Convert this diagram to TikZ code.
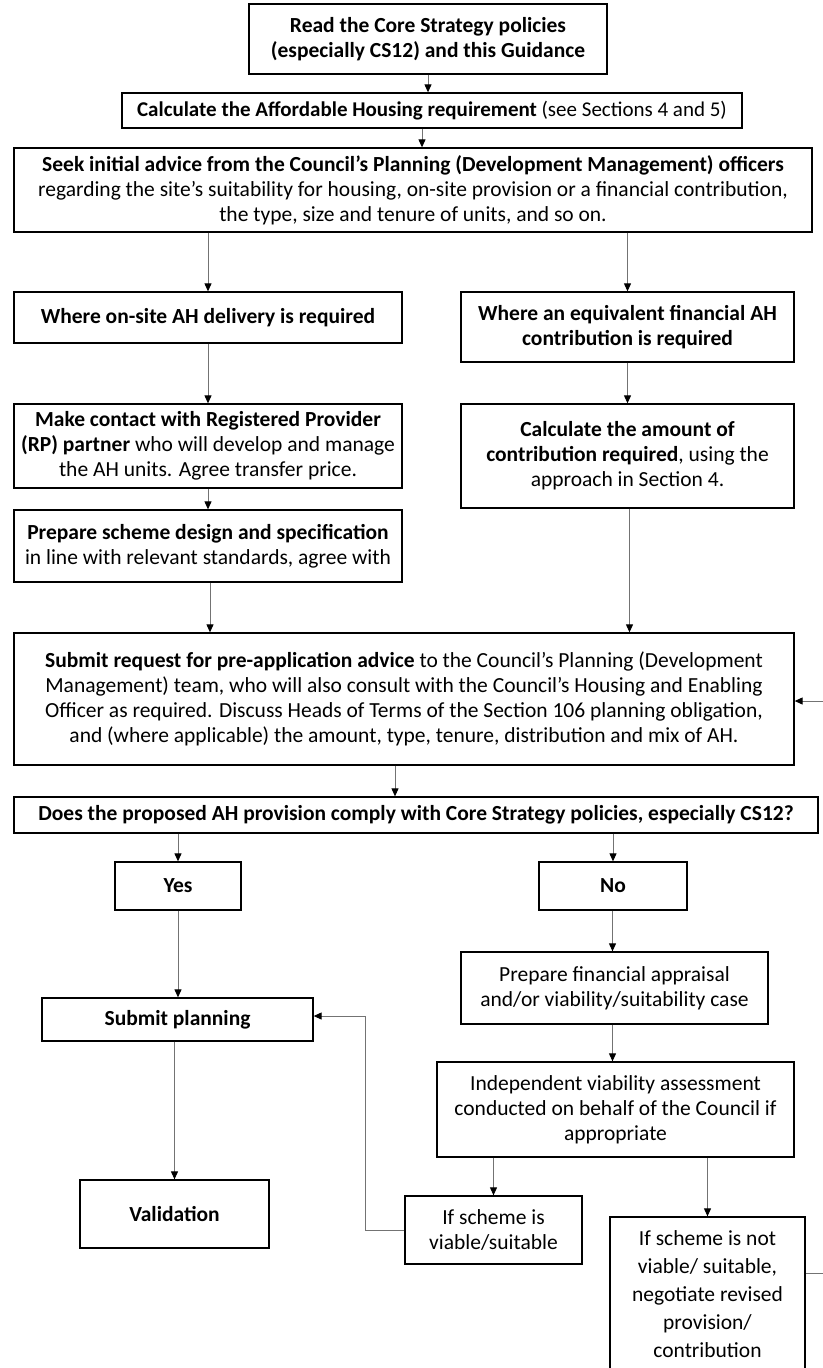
\documentclass[tikz,border=0pt]{standalone}
\usepackage{fontspec}
\setmainfont{Carlito}
\usetikzlibrary{arrows.meta,calc}
\begin{document}
\begin{tikzpicture}[x=1pt,y=-1pt,
  box/.style={draw=black, line width=1.3pt, align=center, inner sep=0pt, fill=white,
    font=\fontsize{21.5}{25}\selectfont},
  conn/.style={draw=black!55, line width=1pt,
    -{Triangle[length=8pt,width=7pt,color=black]}},
  link/.style={draw=black!55, line width=1pt}]
\useasboundingbox (0,0) rectangle (822,1368);

\node[box, minimum width=358pt, minimum height=70pt] (b1) at (428,39)
  {\textbf{Read the Core Strategy policies}\\\textbf{(especially CS12) and this Guidance}};
\node[box, minimum width=620pt, minimum height=35pt, font=\fontsize{21}{25}\selectfont] (b2) at (432,110.5)
  {\textbf{Calculate the Affordable Housing requirement} (see Sections 4 and 5)};
\node[box, minimum width=798pt, minimum height=84pt] (b3) at (413,190)
  {\textbf{Seek initial advice from the Council’s Planning (Development Management) officers}\\
   regarding the site’s suitability for housing, on-site provision or a financial contribution,\\
   the type, size and tenure of units, and so on.};
\node[box, minimum width=388pt, minimum height=51pt] (b4l) at (208,317.5)
  {\textbf{Where on-site AH delivery is required}};
\node[box, minimum width=333pt, minimum height=70pt] (b4r) at (627.5,327)
  {\textbf{Where an equivalent financial AH}\\\textbf{contribution is required}};
\node[box, minimum width=388pt, minimum height=84pt] (b5l) at (208,446)
  {\textbf{Make contact with Registered Provider}\\
   \textbf{(RP) partner} who will develop and manage\\
   the AH units. Agree transfer price.};
\node[box, minimum width=333pt, minimum height=104pt] (b5r) at (627.5,456)
  {\textbf{Calculate the amount of}\\
   \textbf{contribution required}, using the\\
   approach in Section 4.};
\node[box, minimum width=388pt, minimum height=72pt] (b6l) at (208,546)
  {\textbf{Prepare scheme design and specification}\\
   in line with relevant standards, agree with};
\node[box, minimum width=780pt, minimum height=132pt] (b7) at (404,699)
  {\textbf{Submit request for pre-application advice} to the Council’s Planning (Development\\
   Management) team, who will also consult with the Council’s Housing and Enabling\\
   Officer as required. Discuss Heads of Terms of the Section 106 planning obligation,\\
   and (where applicable) the amount, type, tenure, distribution and mix of AH.};
\node[box, minimum width=804pt, minimum height=36pt] (b8) at (416,815)
  {\textbf{Does the proposed AH provision comply with Core Strategy policies, especially CS12?}};
\node[box, minimum width=126pt, minimum height=48pt] (yes) at (178,886) {\textbf{Yes}};
\node[box, minimum width=148pt, minimum height=48pt] (no) at (613,886) {\textbf{No}};
\node[box, minimum width=307pt, minimum height=72pt] (prep) at (614.5,988)
  {Prepare financial appraisal\\and/or viability/suitability case};
\node[box, minimum width=271pt, minimum height=43pt] (sub) at (177.5,1019.5)
  {\textbf{Submit planning}};
\node[box, minimum width=357pt, minimum height=95pt] (ind) at (615.5,1109.5)
  {Independent viability assessment\\conducted on behalf of the Council if\\appropriate};
\node[box, minimum width=189pt, minimum height=68pt] (val) at (174.5,1214)
  {\textbf{Validation}};
\node[box, minimum width=177pt, minimum height=68pt] (via) at (493.5,1230)
  {If scheme is\\viable/suitable};
\node[box, minimum width=195pt, minimum height=155pt, font=\fontsize{21.5}{28}\selectfont] (nv) at (707.5,1294.5)
  {If scheme is not\\viable/ suitable,\\negotiate revised\\provision/\\contribution};

\coordinate (fb) at (365,1016);
\coordinate (rc1) at (835,1273);
\coordinate (rc2) at (835,701);

\draw[conn] (b1.south) -- (b1.south |- b2.north);
\draw[conn] ([xshift=-10pt]b2.south) -- ([xshift=-10pt]b2.south |- b3.north);
\draw[conn] (b4l.north |- b3.south) -- (b4l.north);
\draw[conn] (b4r.north |- b3.south) -- (b4r.north);
\draw[conn] (b4l.south) -- (b5l.north);
\draw[conn] (b4r.south) -- (b5r.north);
\draw[conn] (b5l.south) -- (b6l.north);
\draw[conn] ([xshift=2pt]b5r.south) -- ([xshift=2pt]b5r.south |- b7.north);
\draw[conn] ([xshift=2pt]b6l.south) -- ([xshift=2pt]b6l.south |- b7.north);
\draw[conn] ([xshift=-9pt]b7.south) -- ([xshift=-9pt]b7.south |- b8.north);
\draw[conn] (yes.north |- b8.south) -- (yes.north);
\draw[conn] (no.north |- b8.south) -- (no.north);
\draw[conn] (yes.south) -- (yes.south |- sub.north);
\draw[conn] ([xshift=-2pt]prep.north |- no.south) -- ([xshift=-2pt]prep.north);
\draw[conn] ([xshift=-2pt]prep.south) -- ([xshift=-2pt]prep.south |- ind.north);
\draw[conn] (val.north |- sub.south) -- (val.north);
\draw[conn] (via.north |- ind.south) -- (via.north);
\draw[conn] (nv.north |- ind.south) -- (nv.north);
\draw[conn] (via.west) -- (via.west -| fb) -- (fb) -- (sub.east |- fb);
\draw[conn] (nv.east |- rc1) -- (rc1) -- (rc2) -- (b7.east |- rc2);
\end{tikzpicture}
\end{document}
